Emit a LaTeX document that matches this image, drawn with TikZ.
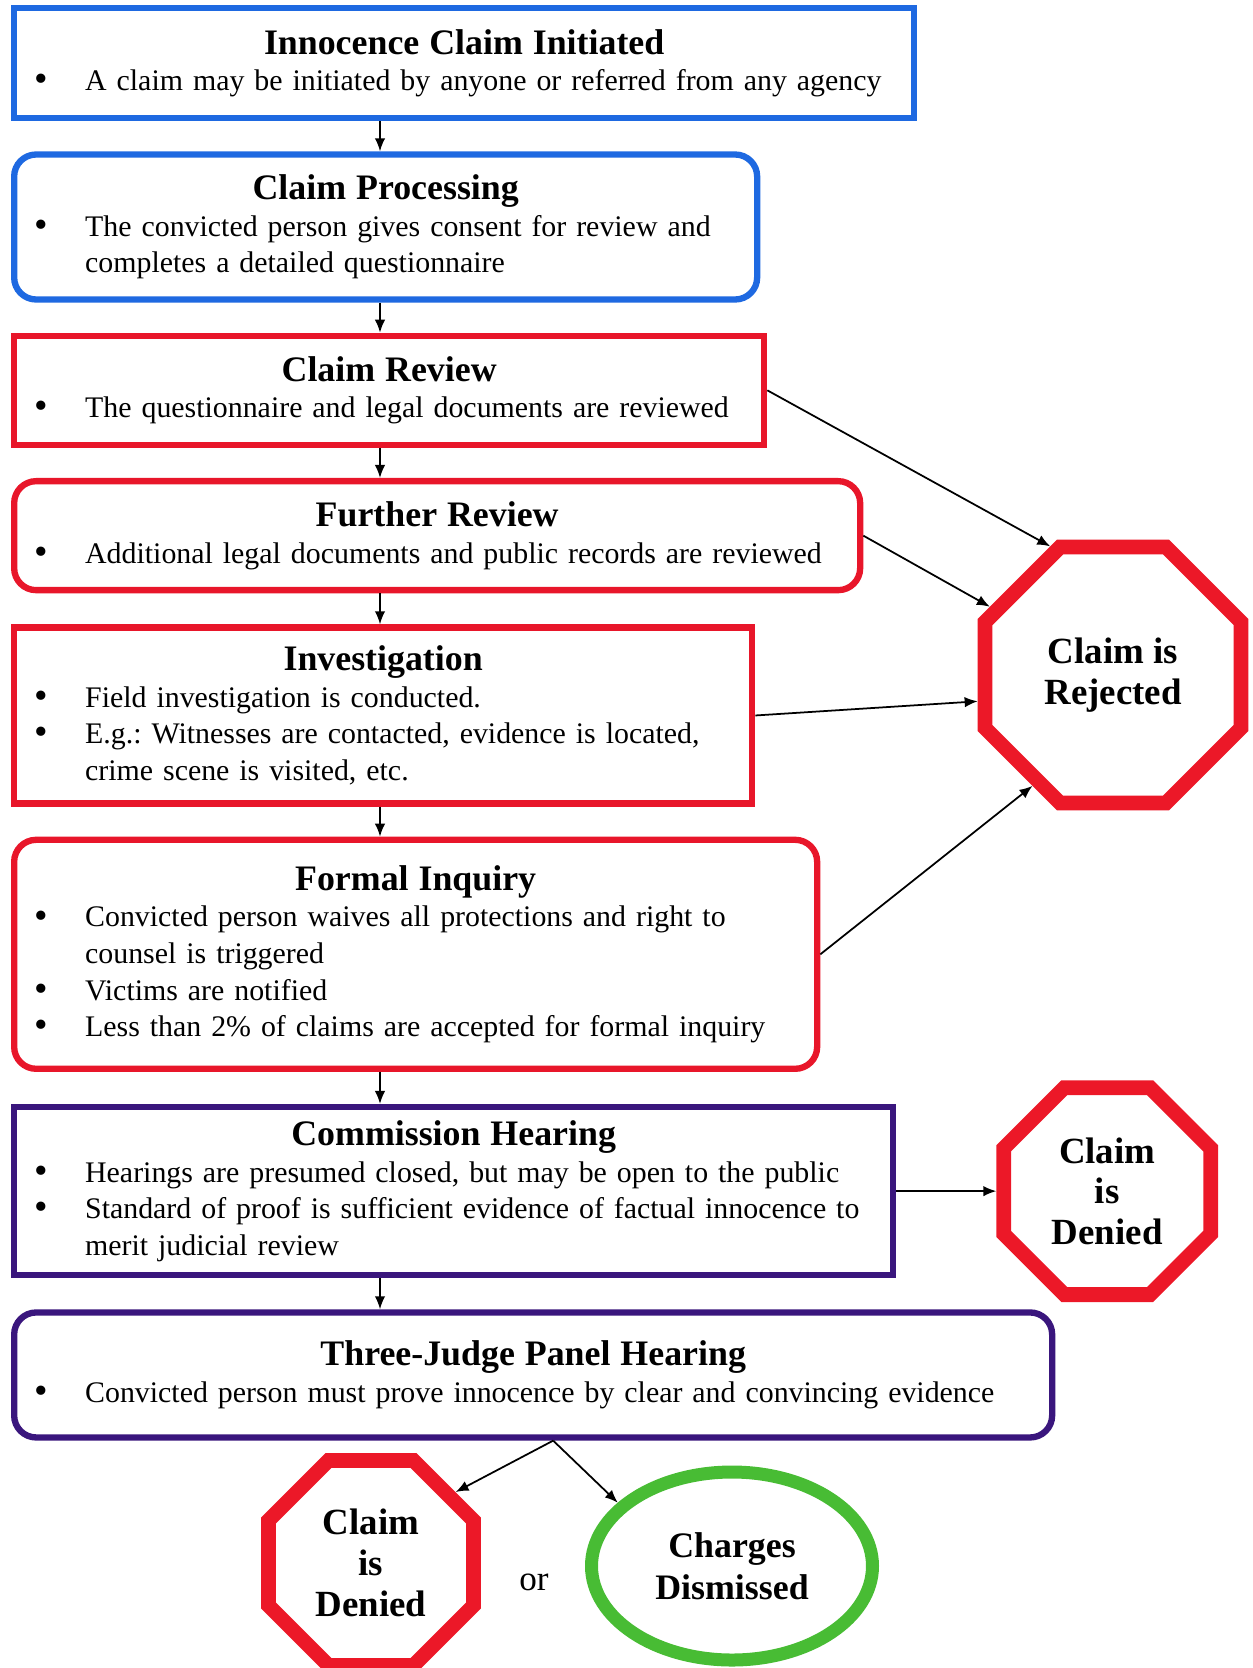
\documentclass[tikz,border=0pt]{standalone}
\usepackage{fontspec}
\setmainfont{Liberation Serif}
\usetikzlibrary{shapes.geometric,positioning,arrows.meta,calc}

\definecolor{stageblue}{RGB}{30,105,225}
\definecolor{stagered}{RGB}{232,22,42}
\definecolor{stagepurple}{RGB}{58,22,125}
\definecolor{stopred}{RGB}{236,24,40}
\definecolor{okgreen}{RGB}{72,188,52}

\frenchspacing
\newcommand{\stagetitle}[1]{{\centering\bfseries\fontsize{10.2}{12}\selectfont #1\par}}
\newcommand{\stagept}[1]{\par\noindent\hangindent=0.71cm\hangafter=1\hspace*{0.2cm}\makebox[0.51cm][l]{\raisebox{-0.3pt}{\fontsize{11}{11}\selectfont\textbullet}}#1\par}

\tikzset{
  stage/.style={draw, line width=1.8pt, inner xsep=0pt, inner ysep=0pt, text width=#1, align=left, font=\fontsize{8.5}{10.4}\selectfont},
  roundstage/.style={stage=#1, rounded corners=0.22cm},
  stopsign/.style={regular polygon, regular polygon sides=8, draw=stopred, line width=4.2pt, minimum size=#1, inner sep=0pt, align=center, font=\bfseries\fontsize{10.5}{11.6}\selectfont},
  flow/.style={-{Latex[length=1.3mm,width=1.05mm]}, line width=0.5pt},
}

\begin{document}
\begin{tikzpicture}
    \useasboundingbox (0,0) rectangle (12.52,-16.68);
    \coordinate (spine) at (3.80,0);

    % main column of stages
    \node [stage=9.0cm, draw=stageblue, minimum height=1.10cm, anchor=north west] (initiated) at (0.11,-0.05)
        {\stagetitle{Innocence Claim Initiated}\stagept{A claim may be initiated by anyone or referred from any agency}};
    \node [roundstage=7.43cm, draw=stageblue, minimum height=1.45cm, below=0.30 of initiated.south west, anchor=north west] (processing)
        {\stagetitle{Claim Processing}\stagept{The convicted person gives consent for review and\newline completes a detailed questionnaire}};
    \node [stage=7.50cm, draw=stagered, minimum height=1.09cm, below=0.30 of processing.south west, anchor=north west] (review)
        {\stagetitle{Claim Review}\stagept{The questionnaire and legal documents are reviewed}};
    \node [roundstage=8.46cm, draw=stagered, minimum height=1.09cm, below=0.30 of review.south west, anchor=north west] (further)
        {\stagetitle{Further Review}\stagept{Additional legal documents and public records are reviewed}};
    \node [stage=7.38cm, draw=stagered, minimum height=1.76cm, below=0.31 of further.south west, anchor=north west] (investigation)
        {\stagetitle{Investigation}\stagept{Field investigation is conducted.}\stagept{E.g.: Witnesses are contacted, evidence is located,\newline crime scene is visited, etc.}};
    \node [roundstage=8.03cm, draw=stagered, minimum height=2.29cm, below=0.30 of investigation.south west, anchor=north west] (inquiry)
        {\stagetitle{Formal Inquiry}\stagept{Convicted person waives all protections and right to\newline counsel is triggered}\stagept{Victims are notified}\stagept{Less than 2\% of claims are accepted for formal inquiry}};
    \node [stage=8.79cm, draw=stagepurple, minimum height=1.68cm, below=0.32 of inquiry.south west, anchor=north west] (commission)
        {\stagetitle{Commission Hearing}\stagept{Hearings are presumed closed, but may be open to the public}\stagept{Standard of proof is sufficient evidence of factual innocence to\newline merit judicial review}};
    \node [roundstage=10.38cm, draw=stagepurple, minimum height=1.25cm, below=0.31 of commission.south west, anchor=north west] (panel)
        {\stagetitle{Three-Judge Panel Hearing}\stagept{Convicted person must prove innocence by clear and convincing evidence}};

    % outcomes
    \node [stopsign=2.77cm] (rejected) at (11.13,-6.75) {Claim is\\Rejected};
    \node [stopsign=2.24cm, right=1.0 of commission] (denied) {Claim\\is\\Denied};
    \node [stopsign=2.22cm] (finaldenied) at (3.71,-15.63) {Claim\\is\\Denied};
    \node [ellipse, draw=okgreen, line width=3.7pt, minimum width=2.81cm, minimum height=1.88cm, inner sep=0pt, align=center,
           font=\bfseries\fontsize{10.2}{12}\selectfont] (dismissed) at (7.32,-15.66) {Charges\\Dismissed};
    \node [font=\fontsize{10}{12}\selectfont] (ortext) at (5.34,-15.82) {or};

    % connectors
    \draw [flow] (initiated.south -| spine) -- (processing.north -| spine);
    \draw [flow] (processing.south -| spine) -- (review.north -| spine);
    \draw [flow] (review.south -| spine) -- (further.north -| spine);
    \draw [flow] (further.south -| spine) -- (investigation.north -| spine);
    \draw [flow] (investigation.south -| spine) -- (inquiry.north -| spine);
    \draw [flow] (inquiry.south -| spine) -- (commission.north -| spine);
    \draw [flow] (commission.south -| spine) -- (panel.north -| spine);

    \draw [flow] (review.east) -- (rejected.116);
    \draw [flow] (further.east) -- (rejected.151);
    \draw [flow] (investigation.east) -- (rejected.191);
    \draw [flow] (inquiry.east) -- (rejected.234);
    \draw [flow] (commission.east) -- (denied.west);

    \draw [flow] ([xshift=0.2cm]panel.south) -- (finaldenied.40);
    \draw [flow] ([xshift=0.2cm]panel.south) -- (dismissed.151);
\end{tikzpicture}
\end{document}
